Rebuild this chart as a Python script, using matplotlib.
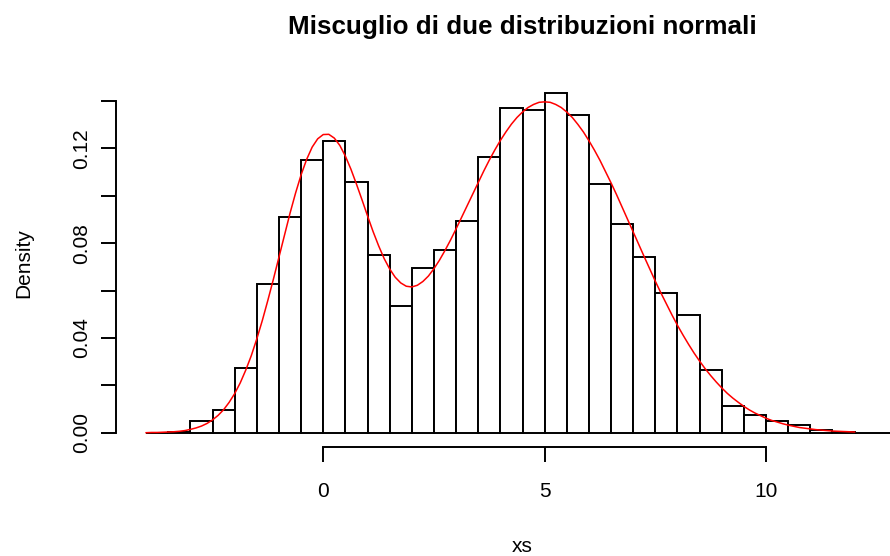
import matplotlib
matplotlib.use("Agg")
import matplotlib.pyplot as plt
import numpy as np

plt.rcParams['font.family'] = ['Liberation Sans', 'DejaVu Sans']

# histogram: left bin edges (width 0.5) and densities
bin_width = 0.5
bin_left = np.arange(-4.0, 13.0, bin_width)
density = [0.0, 0.0005, 0.0049, 0.0096, 0.0272, 0.0626, 0.0911, 0.1149,
           0.1232, 0.1057, 0.0750, 0.0533, 0.0694, 0.0771, 0.0893, 0.1163,
           0.1368, 0.1362, 0.1432, 0.1341, 0.1048, 0.0879, 0.0740, 0.0588,
           0.0495, 0.0263, 0.0111, 0.0074, 0.0051, 0.0034, 0.0011, 0.0004,
           0.0, 0.0]

# red density curve, read every 0.125 from -4 to 12
curve_x = np.linspace(-4.0, 12.0, 129)
curve_y = [0.0000, 0.0001, 0.0001, 0.0002, 0.0003, 0.0004, 0.0006, 0.0009,
           0.0014, 0.0020, 0.0028, 0.0039, 0.0054, 0.0073, 0.0097, 0.0128,
           0.0165, 0.0210, 0.0264, 0.0325, 0.0396, 0.0474, 0.0559, 0.0648,
           0.0741, 0.0835, 0.0926, 0.1011, 0.1088, 0.1153, 0.1205, 0.1240,
           0.1258, 0.1259, 0.1243, 0.1212, 0.1167, 0.1112, 0.1049, 0.0983,
           0.0915, 0.0849, 0.0789, 0.0735, 0.0691, 0.0656, 0.0632, 0.0618,
           0.0615, 0.0622, 0.0638, 0.0661, 0.0692, 0.0728, 0.0769, 0.0813,
           0.0860, 0.0909, 0.0958, 0.1008, 0.1057, 0.1104, 0.1150, 0.1193,
           0.1233, 0.1269, 0.1302, 0.1330, 0.1353, 0.1372, 0.1385, 0.1394,
           0.1396, 0.1394, 0.1385, 0.1372, 0.1353, 0.1330, 0.1301, 0.1269,
           0.1232, 0.1192, 0.1149, 0.1102, 0.1054, 0.1004, 0.0952, 0.0900,
           0.0847, 0.0794, 0.0742, 0.0690, 0.0639, 0.0590, 0.0543, 0.0497,
           0.0453, 0.0412, 0.0373, 0.0336, 0.0302, 0.0270, 0.0241, 0.0214,
           0.0189, 0.0166, 0.0146, 0.0128, 0.0111, 0.0096, 0.0083, 0.0072,
           0.0061, 0.0052, 0.0045, 0.0038, 0.0032, 0.0027, 0.0022, 0.0019,
           0.0016, 0.0013, 0.0011, 0.0009, 0.0007, 0.0006, 0.0005, 0.0004,
           0.0003]

x_ticks = [0, 5, 10]
y_ticks = [0.00, 0.02, 0.04, 0.06, 0.08, 0.10, 0.12, 0.14]
y_tick_labels = ['0.00', '', '0.04', '', '0.08', '', '0.12', '']

W, H = 890, 556
fig = plt.figure(figsize=(W / 100, H / 100), dpi=100)
# plot region runs past the right edge of the picture (cropped original)
left, right, top, bottom = 116, 929, 79.8, 447
ax = fig.add_axes([left / W, (H - bottom) / H, (right - left) / W, (bottom - top) / H])

ax.bar(bin_left, density, width=bin_width, align='edge', color='white',
       edgecolor='black', linewidth=1.4, zorder=2)
ax.plot(curve_x, curve_y, color='red', linewidth=1.1, zorder=3)

ax.set_xlim(-4.68, 13.68)
ax.set_ylim(-0.00603, 0.1489)

for s in ['top', 'right']:
    ax.spines[s].set_visible(False)
ax.spines['left'].set_bounds(0, 0.14)
ax.spines['bottom'].set_bounds(0, 10)
ax.spines['left'].set_linewidth(1.4)
ax.spines['bottom'].set_linewidth(1.4)

ax.set_xticks(x_ticks)
ax.set_xticklabels([str(t) for t in x_ticks])
ax.set_yticks(y_ticks)
ax.set_yticklabels(y_tick_labels, rotation=90, va='center')
ax.tick_params(axis='both', length=11, width=1.4, labelsize=15)
ax.tick_params(axis='x', pad=14.5)
ax.tick_params(axis='y', pad=7)

ax.set_xlabel('xs', fontsize=15, labelpad=25.5)
ax.set_ylabel('Density', fontsize=15, labelpad=28)
fig.text(522 / W, 1 - 27 / H, 'Miscuglio di due distribuzioni normali',
         ha='center', va='center', fontsize=18.7, fontweight='bold')

fig.savefig('out.png', dpi=100)
